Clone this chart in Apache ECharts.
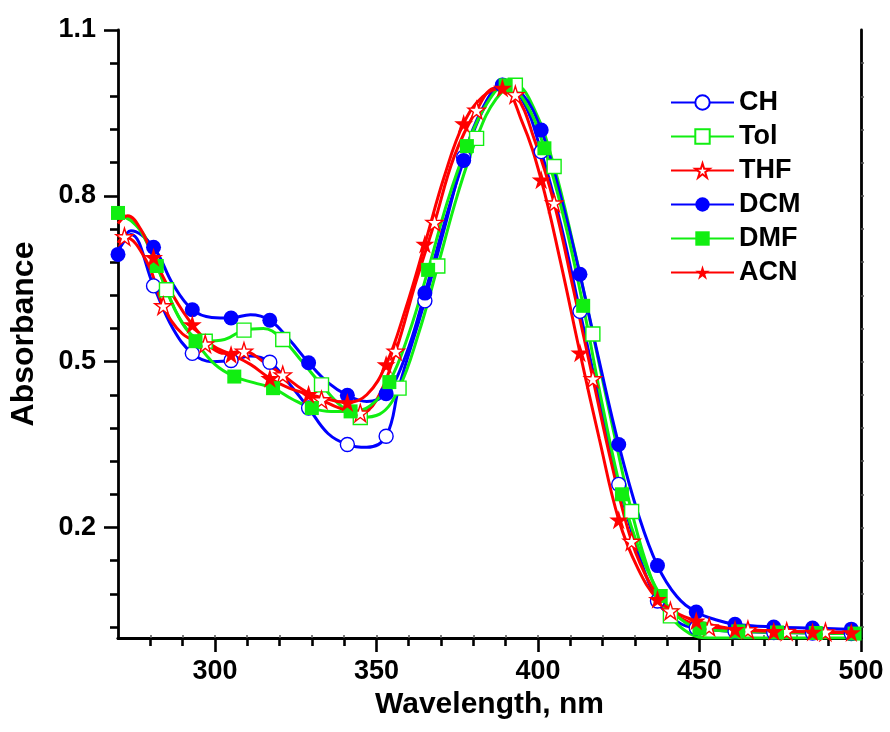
<!DOCTYPE html>
<html>
<head>
<meta charset="utf-8">
<script src="https://cdn.jsdelivr.net/npm/echarts@6/dist/echarts.min.js"></script>
<style>
html,body{margin:0;padding:0;background:#fff;}
#chart{width:890px;height:732px;}
</style>
</head>
<body>
<div id="chart"></div>
<script>
// ---------- data ----------
const seriesNames = ['CH', 'Tol', 'THF', 'DCM', 'DMF', 'ACN'];

const chWl  = [270, 274, 281, 287, 293, 299, 305, 311, 317, 323, 329, 335, 341, 347, 353, 357, 365, 371, 377, 383, 389, 395, 401, 407, 413, 419, 425, 431, 437, 443, 449, 461, 473, 485, 497, 500];
const chAbs = [0.700, 0.730, 0.637, 0.560, 0.515, 0.500, 0.502, 0.510, 0.499, 0.460, 0.416, 0.370, 0.350, 0.345, 0.365, 0.455, 0.610, 0.740, 0.870, 0.960, 1.000, 0.975, 0.880, 0.750, 0.591, 0.430, 0.278, 0.155, 0.067, 0.030, 0.018, 0.012, 0.010, 0.009, 0.008, 0.008];
const chMarks = [281, 293, 305, 317, 329, 341, 353, 365, 377, 389, 401, 413, 425, 437, 449, 461, 473, 485, 497];

const tolWl  = [270, 274, 279, 285, 291, 297, 303, 309, 315, 321, 327, 333, 339, 345, 351, 357, 363, 369, 375, 381, 387, 393, 399, 405, 411, 417, 423, 429, 435, 441, 447, 453, 465, 477, 489, 500];
const tolAbs = [0.765, 0.755, 0.720, 0.630, 0.560, 0.537, 0.540, 0.557, 0.560, 0.540, 0.500, 0.458, 0.420, 0.399, 0.405, 0.452, 0.550, 0.673, 0.800, 0.904, 0.975, 1.000, 0.955, 0.853, 0.710, 0.550, 0.385, 0.229, 0.110, 0.040, 0.008, 0.000, 0.000, 0.000, 0.000, 0.000];
const tolMarks = [285, 297, 309, 321, 333, 345, 357, 369, 381, 393, 405, 417, 429, 441];

const thfWl  = [270, 272, 279, 284, 290, 297, 303, 309, 315, 321, 327, 333, 339, 345, 350, 356, 362, 368, 374, 381, 387, 393, 399, 405, 411, 417, 423, 429, 435, 441, 447, 453, 465, 477, 489, 500];
const thfAbs = [0.715, 0.726, 0.680, 0.601, 0.550, 0.532, 0.515, 0.519, 0.500, 0.476, 0.450, 0.431, 0.415, 0.407, 0.430, 0.519, 0.640, 0.752, 0.870, 0.955, 0.995, 0.983, 0.900, 0.787, 0.630, 0.469, 0.310, 0.175, 0.095, 0.049, 0.028, 0.020, 0.015, 0.012, 0.011, 0.010];
const thfMarks = [272, 284, 297, 309, 321, 333, 345, 356, 368, 381, 393, 405, 417, 429, 441, 453, 465, 477, 489];

const dcmWl  = [270, 274, 281, 287, 293, 299, 305, 311, 317, 323, 329, 335, 341, 347, 353, 359, 365, 371, 377, 383, 389, 395, 401, 407, 413, 419, 425, 431, 437, 443, 449, 455, 461, 473, 485, 497, 500];
const dcmAbs = [0.694, 0.737, 0.707, 0.640, 0.594, 0.580, 0.579, 0.585, 0.575, 0.540, 0.498, 0.462, 0.439, 0.428, 0.442, 0.510, 0.624, 0.750, 0.864, 0.955, 1.000, 0.985, 0.919, 0.800, 0.658, 0.500, 0.350, 0.225, 0.131, 0.075, 0.047, 0.033, 0.025, 0.020, 0.018, 0.016, 0.016];
const dcmMarks = [270, 281, 293, 305, 317, 329, 341, 353, 365, 377, 389, 401, 413, 425, 437, 449, 461, 473, 485, 497];

const dmfWl  = [270, 276, 282, 288, 294, 300, 306, 312, 318, 324, 330, 336, 342, 348, 354, 360, 366, 372, 378, 384, 390, 396, 402, 408, 414, 420, 426, 432, 438, 444, 450, 462, 474, 486, 498, 500];
const dmfAbs = [0.769, 0.745, 0.673, 0.590, 0.537, 0.495, 0.473, 0.462, 0.452, 0.432, 0.416, 0.410, 0.410, 0.420, 0.463, 0.550, 0.666, 0.790, 0.890, 0.965, 1.000, 0.970, 0.886, 0.760, 0.601, 0.420, 0.260, 0.150, 0.076, 0.035, 0.017, 0.012, 0.010, 0.009, 0.008, 0.008];
const dmfMarks = [270, 282, 294, 306, 318, 330, 342, 354, 366, 378, 390, 402, 414, 426, 438, 450, 462, 474, 486, 498];

const acnWl  = [270, 273, 277, 281, 287, 293, 299, 305, 311, 317, 323, 329, 335, 341, 347, 353, 359, 365, 371, 377, 383, 389, 395, 401, 407, 413, 419, 425, 431, 437, 443, 449, 455, 461, 473, 485, 497, 500];
const acnAbs = [0.750, 0.764, 0.740, 0.689, 0.620, 0.567, 0.530, 0.513, 0.495, 0.470, 0.452, 0.441, 0.432, 0.426, 0.440, 0.495, 0.595, 0.713, 0.835, 0.931, 0.980, 0.995, 0.935, 0.829, 0.680, 0.516, 0.360, 0.214, 0.125, 0.070, 0.045, 0.031, 0.022, 0.016, 0.012, 0.011, 0.010, 0.010];
const acnMarks = [281, 293, 305, 317, 329, 341, 353, 365, 377, 389, 401, 413, 425, 437, 449, 461, 473, 485, 497];

// axis ticks / labels
const xLabelValues = [300, 350, 400, 450, 500];
const xMinorTicks = [280, 290, 310, 320, 330, 340, 360, 370, 380, 390, 410, 420, 430, 440, 460, 470, 480, 490];
const xTopTicks = [280, 290, 300, 310, 320, 330, 340, 350, 360, 370, 380, 390, 400, 410, 420, 430, 440, 450, 460, 470, 480, 490];
const yLabelValues = [0.2, 0.5, 0.8, 1.1];
const yMinorTicks = [0.02, 0.08, 0.14, 0.26, 0.32, 0.38, 0.44, 0.56, 0.62, 0.68, 0.74, 0.86, 0.92, 0.98, 1.04];
const yRightTicks = [0.02, 0.08, 0.14, 0.2, 0.26, 0.32, 0.38, 0.44, 0.5, 0.56, 0.62, 0.68, 0.74, 0.8, 0.86, 0.92, 0.98, 1.04];

// ---------- build ----------
const STAR = 'path://M0,-1L0.2245,-0.309L0.951,-0.309L0.363,0.118L0.588,0.809L0,0.382L-0.588,0.809L-0.363,0.118L-0.951,-0.309L-0.2245,-0.309Z';
const BLUE = '#0000ff', GREEN = '#11ee11', RED = '#ff0000';
const FONT = '"Liberation Sans", Arial, sans-serif';

function build(wl, abs, marks) {
  return wl.map((w, i) => marks.indexOf(w) >= 0 ? { value: [w, abs[i]] } : { value: [w, abs[i]], symbol: 'none' });
}

function mk(name, wl, abs, marks, color, symbol, size, hollow) {
  return {
    name: name,
    type: 'line',
    xAxisIndex: 0,
    yAxisIndex: 0,
    smooth: 0.4,
    data: build(wl, abs, marks),
    symbol: symbol,
    symbolSize: size,
    showAllSymbol: true,
    lineStyle: { color: color, width: 3 },
    itemStyle: hollow ? { color: '#ffffff', borderColor: color, borderWidth: 1.4 } : { color: color, borderColor: color, borderWidth: 0 },
    emphasis: { disabled: true },
    animation: false
  };
}

const chart = echarts.init(document.getElementById('chart'), null, { renderer: 'canvas' });

const axisLineStyle = { color: '#000', width: 2.8 };

const option = {
  backgroundColor: '#ffffff',
  animation: false,
  grid: { left: 117, right: 29, top: 30, bottom: 94, containLabel: false },
  legend: {
    orient: 'vertical',
    left: 665,
    top: 84,
    itemWidth: 63,
    itemHeight: 18,
    itemGap: 7,
    data: seriesNames,
    textStyle: { fontFamily: FONT, fontWeight: 'bold', fontSize: 27, color: '#000', lineHeight: 26 }
  },
  xAxis: [
    {
      type: 'value', position: 'bottom', min: 270, max: 500,
      axisLine: { show: true, lineStyle: axisLineStyle },
      axisTick: { show: true, customValues: xLabelValues, length: 14, lineStyle: { width: 2.6, color: '#000' } },
      axisLabel: { customValues: xLabelValues, margin: 20, fontFamily: FONT, fontWeight: 'bold', fontSize: 27, color: '#000' },
      splitLine: { show: false },
      name: 'Wavelength, nm', nameLocation: 'middle', nameGap: 44,
      nameTextStyle: { fontFamily: FONT, fontWeight: 'bold', fontSize: 30, color: '#000' }
    },
    {
      type: 'value', position: 'bottom', min: 270, max: 500,
      axisLine: { show: false },
      axisTick: { show: true, customValues: xMinorTicks, length: 8, lineStyle: { width: 2.6, color: '#000' } },
      axisLabel: { show: false },
      splitLine: { show: false }
    },
    {
      type: 'value', position: 'top', min: 270, max: 500,
      axisLine: { show: true, lineStyle: axisLineStyle },
      axisTick: { show: true, customValues: xTopTicks, length: 3, lineStyle: { width: 1.5, color: '#555' } },
      axisLabel: { show: false },
      splitLine: { show: false }
    }
  ],
  yAxis: [
    {
      type: 'value', position: 'left', min: 0, max: 1.1,
      axisLine: { show: true, lineStyle: axisLineStyle },
      axisTick: { show: true, customValues: yLabelValues, length: 14, lineStyle: { width: 2.6, color: '#000' } },
      axisLabel: { customValues: yLabelValues, margin: 22, fontFamily: FONT, fontWeight: 'bold', fontSize: 27, color: '#000',
                   formatter: v => v.toFixed(1) },
      splitLine: { show: false },
      name: 'Absorbance', nameLocation: 'middle', nameGap: 78, nameRotate: 90,
      nameTextStyle: { fontFamily: FONT, fontWeight: 'bold', fontSize: 32, color: '#000' }
    },
    {
      type: 'value', position: 'left', min: 0, max: 1.1,
      axisLine: { show: false },
      axisTick: { show: true, customValues: yMinorTicks, length: 8, lineStyle: { width: 2.6, color: '#000' } },
      axisLabel: { show: false },
      splitLine: { show: false }
    },
    {
      type: 'value', position: 'right', min: 0, max: 1.1,
      axisLine: { show: true, lineStyle: axisLineStyle },
      axisTick: { show: true, customValues: yRightTicks, length: 3, lineStyle: { width: 1.5, color: '#555' } },
      axisLabel: { show: false },
      splitLine: { show: false }
    }
  ],
  series: [
    mk('CH',  chWl,  chAbs,  chMarks,  BLUE,  'circle', 14, true),
    mk('Tol', tolWl, tolAbs, tolMarks, GREEN, 'rect',   14, true),
    mk('THF', thfWl, thfAbs, thfMarks, RED,   STAR,     17, true),
    mk('DCM', dcmWl, dcmAbs, dcmMarks, BLUE,  'circle', 15, false),
    mk('DMF', dmfWl, dmfAbs, dmfMarks, GREEN, 'rect',   14, false),
    mk('ACN', acnWl, acnAbs, acnMarks, RED,   STAR,     19, false)
  ]
};

chart.setOption(option);
</script>
</body>
</html>
